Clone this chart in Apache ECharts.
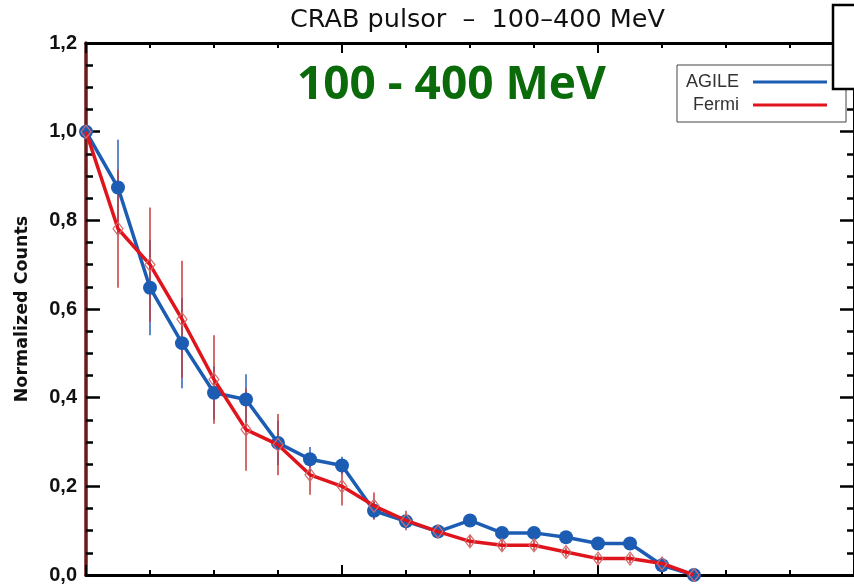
<!DOCTYPE html>
<html>
<head>
<meta charset="utf-8">
<script src="https://cdn.jsdelivr.net/npm/echarts@6/dist/echarts.min.js"></script>
<style>html,body{margin:0;padding:0;background:#fff}#c{width:854px;height:585px}</style>
</head>
<body>
<div id="c"></div>
<script>
// Phase bins
const phase = [0, 0.125, 0.25, 0.375, 0.5, 0.625, 0.75, 0.875, 1.0, 1.125, 1.25, 1.375, 1.5, 1.625, 1.75, 1.875, 2.0, 2.125, 2.25, 2.375];
// AGILE normalized counts and errors
const agile = [1.0, 0.874, 0.648, 0.523, 0.411, 0.396, 0.298, 0.261, 0.247, 0.145, 0.121, 0.098, 0.123, 0.095, 0.095, 0.085, 0.071, 0.071, 0.022, 0.0];
const agileErr = [0, 0.108, 0.107, 0.102, 0.06, 0.057, 0.05, 0.028, 0.02, 0.02, 0.015, 0.012, 0.012, 0.01, 0.01, 0.01, 0.01, 0.01, 0.01, 0];
// Fermi normalized counts and errors
const fermi = [1.0, 0.781, 0.700, 0.577, 0.441, 0.328, 0.294, 0.226, 0.200, 0.156, 0.123, 0.098, 0.076, 0.067, 0.067, 0.052, 0.037, 0.037, 0.026, 0.0];
const fermiErr = [0, 0.133, 0.129, 0.132, 0.1, 0.093, 0.069, 0.045, 0.043, 0.03, 0.022, 0.015, 0.012, 0.012, 0.012, 0.01, 0.01, 0.01, 0.01, 0];
// Texts
const titleText = 'CRAB pulsor  \u2013  100\u2013400 MeV';
const bandText = '100 - 400 MeV';
const yName = 'Normalized Counts';
const seriesNames = ['AGILE', 'Fermi'];

const BLUE = '#1c5db3';
const RED = '#e0141c';

function errRender(color) {
  return function (params, api) {
    const x = api.value(0), y = api.value(1), e = api.value(2);
    if (!e) return null;
    const p1 = api.coord([x, y + e]);
    const p2 = api.coord([x, y - e]);
    return {
      type: 'line',
      shape: { x1: p1[0], y1: p1[1], x2: p2[0], y2: p2[1] },
      style: { stroke: color, lineWidth: 1.5 }
    };
  };
}

const chart = echarts.init(document.getElementById('c'), null, { renderer: 'canvas' });
const axisX = (pos) => ({
  type: 'value', position: pos, min: 0, max: 3, interval: 1,
  axisLine: { show: true, onZero: false, lineStyle: { color: '#000', width: 3 } },
  axisTick: { show: true, inside: true, length: 10, lineStyle: { color: '#000', width: 2 } },
  minorTick: { show: true, splitNumber: 4, length: 5, lineStyle: { color: '#000', width: 2 } },
  axisLabel: { show: false },
  splitLine: { show: false }
});
chart.setOption({
  animation: false,
  backgroundColor: '#fff',
  title: [
    { text: titleText, left: 285, top: 2,
      textStyle: { fontFamily: 'DejaVu Sans', fontSize: 25.5, fontWeight: 'normal', color: '#111' } },
    { text: bandText, left: 292, top: 58,
      textStyle: { fontFamily: 'Open Sans', fontSize: 46, fontWeight: 'bold', color: '#0b6b0b' } }
  ],
  legend: {
    data: [
      { name: seriesNames[0], itemStyle: { color: BLUE, borderWidth: 0 } },
      { name: seriesNames[1], itemStyle: { color: RED, borderWidth: 0 } }
    ],
    orient: 'vertical', align: 'right', left: 677, top: 65,
    padding: [8, 19, 8, 9], itemGap: 5,
    itemWidth: 74, itemHeight: 3, icon: 'rect',
    borderColor: '#444', borderWidth: 1, backgroundColor: '#fff',
    textStyle: { fontFamily: 'Liberation Sans', fontSize: 18, color: '#333', width: 53, lineHeight: 18, padding: [0, 9, 0, 0] }
  },
  grid: { left: 86, top: 43, width: 772.5, height: 538 },
  xAxis: [axisX('bottom'), axisX('top')],
  yAxis: [
    { type: 'value', position: 'left', min: 0, max: 1.2, interval: 0.2,
      name: yName, nameLocation: 'middle', nameGap: 55, nameRotate: 90,
      nameTextStyle: { fontFamily: 'DejaVu Sans', fontSize: 17.5, fontWeight: 'bold', color: '#111' },
      axisLine: { show: true, onZero: false, lineStyle: { color: '#6b1a1a', width: 3.5 } },
      axisTick: { show: true, inside: true, length: 14, lineStyle: { color: '#000', width: 2.5 } },
      minorTick: { show: true, splitNumber: 4, length: 7, lineStyle: { color: '#000', width: 2.5 } },
      axisLabel: { margin: 9, fontFamily: 'Liberation Sans', fontSize: 20, fontWeight: 'bold', color: '#111',
        formatter: v => v.toFixed(1).replace('.', ',') },
      splitLine: { show: false } },
    { type: 'value', position: 'right', min: 0, max: 1.2, interval: 0.2,
      axisLine: { show: true, onZero: false, lineStyle: { color: '#000', width: 3 } },
      axisTick: { show: true, inside: true, length: 14, lineStyle: { color: '#000', width: 2.5 } },
      minorTick: { show: true, splitNumber: 4, length: 7, lineStyle: { color: '#000', width: 2.5 } },
      axisLabel: { show: false },
      splitLine: { show: false } }
  ],
  series: [
    { name: 'AGILE err', type: 'custom', z: 1, renderItem: errRender('#2a62b8'),
      encode: { x: 0, y: 1 }, silent: true,
      data: phase.map((x, i) => [x, agile[i], agileErr[i]]) },
    { name: 'Fermi err', type: 'custom', z: 2, renderItem: errRender('#c43a3a'),
      encode: { x: 0, y: 1 }, silent: true,
      data: phase.map((x, i) => [x, fermi[i], fermiErr[i]]) },
    { name: seriesNames[0], type: 'line', z: 3,
      data: phase.map((x, i) => [x, agile[i]]),
      symbol: 'circle', symbolSize: 14, showAllSymbol: true,
      lineStyle: { color: BLUE, width: 3.5 },
      itemStyle: { color: BLUE } },
    { name: seriesNames[1], type: 'line', z: 4,
      data: phase.map((x, i) => [x, fermi[i]]),
      symbol: 'diamond', symbolSize: [10, 13], showAllSymbol: true,
      lineStyle: { color: RED, width: 3.5 },
      itemStyle: { color: 'rgba(0,0,0,0)', borderColor: '#d46a6a', borderWidth: 1.2 } }
  ],
  graphic: [
    { type: 'rect', z: 100, shape: { x: 833, y: 5, width: 40, height: 84 },
      style: { fill: '#fff', stroke: '#000', lineWidth: 2.5 } }
  ]
});
</script>
</body>
</html>
